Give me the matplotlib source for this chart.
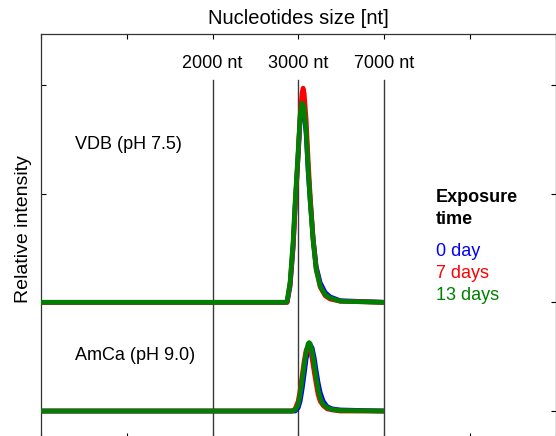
import matplotlib
matplotlib.use("Agg")
import matplotlib.pyplot as plt

plt.rcParams['font.family'] = ['Liberation Sans', 'DejaVu Sans']

# ---- data (x: position on the size axis, y: relative intensity above baseline) ----
marker_pos = [2.0, 3.0, 4.0]
marker_labels = ["2000 nt", "3000 nt", "7000 nt"]

x_vdb = [0.0, 2.847, 2.870, 2.905, 2.940, 2.964, 2.999, 3.022, 3.045, 3.057, 3.069,
         3.092, 3.116, 3.139, 3.174, 3.209, 3.256, 3.314, 3.372, 3.489, 4.0]
vdb_0day = [0.0, 0.0, 0.0, 0.15, 0.50, 0.88, 1.35, 1.68, 1.78, 1.77, 1.74,
            1.55, 1.20, 0.94, 0.58, 0.33, 0.18, 0.09, 0.05, 0.015, 0.0]
vdb_7days = [0.0, 0.0, 0.0, 0.17, 0.52, 0.88, 1.36, 1.72, 1.93, 1.97, 1.92,
             1.68, 1.30, 0.98, 0.58, 0.31, 0.14, 0.06, 0.03, 0.01, 0.0]
vdb_13days = [0.0, 0.0, 0.01, 0.19, 0.56, 0.93, 1.39, 1.71, 1.83, 1.82, 1.78,
              1.57, 1.21, 0.93, 0.56, 0.30, 0.15, 0.07, 0.04, 0.01, 0.0]

x_amca = [0.0, 2.929, 2.964, 2.999, 3.022, 3.045, 3.069, 3.092, 3.116, 3.127, 3.139,
          3.162, 3.186, 3.209, 3.232, 3.256, 3.291, 3.337, 3.396, 3.489, 4.0]
amca_0day = [0.0, 0.0, 0.0, 0.03, 0.09, 0.20, 0.34, 0.48, 0.57, 0.60, 0.61,
             0.58, 0.49, 0.37, 0.26, 0.17, 0.09, 0.04, 0.02, 0.01, 0.0]
amca_7days = [0.0, 0.0, 0.02, 0.09, 0.19, 0.32, 0.46, 0.56, 0.60, 0.59, 0.57,
              0.48, 0.36, 0.25, 0.15, 0.09, 0.05, 0.02, 0.01, 0.0, 0.0]
amca_13days = [0.0, 0.0, 0.01, 0.06, 0.15, 0.28, 0.42, 0.54, 0.62, 0.63, 0.62,
               0.55, 0.43, 0.31, 0.20, 0.12, 0.06, 0.03, 0.015, 0.005, 0.0]

offset_vdb = 1.0
offset_amca = 0.0

series_labels = ["0 day", "7 days", "13 days"]
series_colors = ["#0000ff", "#ff0000", "#008000"]

# ---- figure ----
fig = plt.figure(figsize=(5.56, 4.36), dpi=100)
ax = fig.add_axes([41 / 556, -2 / 436, 514.5 / 556, 404 / 436])
ax.set_xlim(0, 6)
ax.set_ylim(-0.248, 3.468)

for xs, ys_list, off in [(x_vdb, [vdb_0day, vdb_7days, vdb_13days], offset_vdb),
                         (x_amca, [amca_0day, amca_7days, amca_13days], offset_amca)]:
    for ys, c in zip(ys_list, series_colors):
        ax.plot(xs, [v + off for v in ys], color=c, lw=3.4,
                solid_joinstyle='round', solid_capstyle='butt', zorder=3)

for p, lab in zip(marker_pos, marker_labels):
    ax.plot([p, p], [-0.3, 3.045], color='#3a3a3a', lw=1.0, zorder=2)
    ax.text(p, 3.195, lab, ha='center', va='center', fontsize=13)

ax.set_xticks(range(0, 7))
ax.set_yticks([0, 1, 2, 3])
ax.tick_params(axis='both', direction='in', length=3.5, width=0.8,
               top=True, right=True, labelbottom=False, labelleft=False)
for s in ax.spines.values():
    s.set_linewidth(0.9)
    s.set_color('#333333')

ax.text(0.40, 2.45, "VDB (pH 7.5)", ha='left', va='center', fontsize=13)
ax.text(0.40, 0.51, "AmCa (pH 9.0)", ha='left', va='center', fontsize=13)

fig.text(298 / 556, 1 - 18 / 436, "Nucleotides size [nt]", ha='center', va='center', fontsize=14.5)
fig.text(24 / 556, 1 - 229 / 436, "Relative intensity", ha='center', va='center',
         rotation=90, fontsize=14)

fig.text(436 / 556, 1 - 197 / 436, "Exposure", ha='left', va='center', fontsize=13, fontweight='bold')
fig.text(436 / 556, 1 - 219 / 436, "time", ha='left', va='center', fontsize=13, fontweight='bold')
for i, (lab, c) in enumerate(zip(series_labels, series_colors)):
    fig.text(436 / 556, 1 - (252 + 21.5 * i) / 436, lab, ha='left', va='center',
             fontsize=13, color=c)

fig.savefig("out.png", dpi=100)
